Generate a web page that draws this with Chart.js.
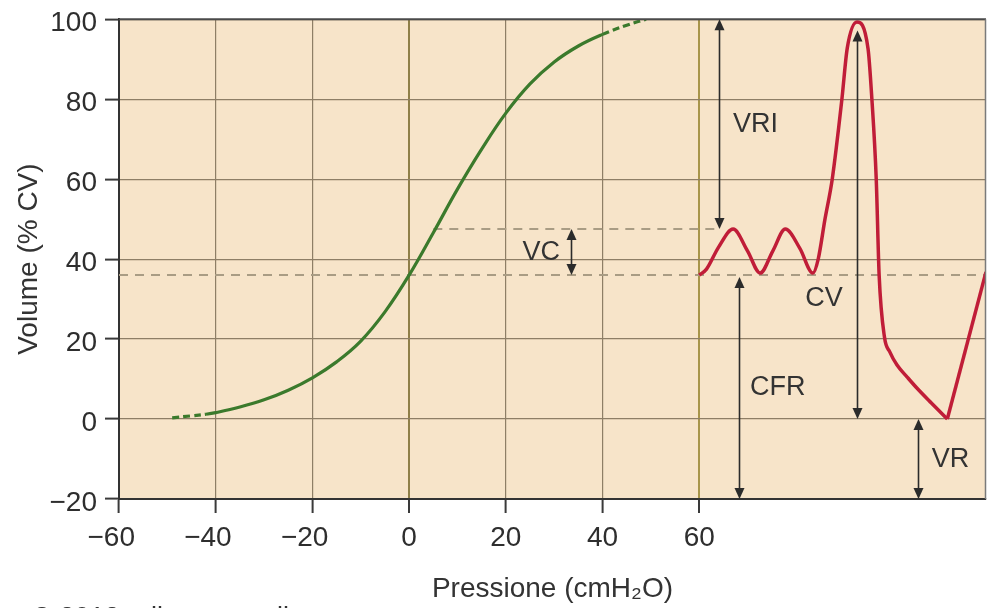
<!DOCTYPE html>
<html><head><meta charset="utf-8">
<style>html,body{margin:0;padding:0;background:#fff;overflow:hidden}#wrap{width:987px;height:608px;position:relative}</style>
<script src="https://cdn.jsdelivr.net/npm/chart.js@4"></script>
</head><body><div id="wrap"><canvas id="c" width="987" height="608"></canvas></div>
<script>
// ---- data ----
const xTicks = [-60, -40, -20, 0, 20, 40, 60];
const yTicks = [-20, 0, 20, 40, 60, 80, 100];
const xMin = -60, xMax = 119.3, yMin = -20, yMax = 100;

// pressure-volume (compliance) curve
const greenX = [-49, -45, -42, -40, -35, -30, -25, -20, -15, -10, -5, 0, 5, 10, 15, 20, 25, 30, 35, 40, 45, 49];
const greenY = [0.3, 0.8, 1.2, 1.6, 3.0, 4.8, 7.2, 10.3, 14.3, 19.5, 26.8, 36, 46.6, 57.5, 67.5, 76.5, 83.8, 89.3, 93.3, 96.2, 98.5, 100];

// spirogram trace
const redX = [60, 61.5, 64, 67, 70, 72.6, 75.2, 77.8, 80.8, 83.5, 84.6, 86, 87.5, 89.5, 90.6, 92.6, 94.9, 95.7, 96.6, 97.2, 98.3, 99.4, 100.9, 103, 105, 108, 111.3];
const redY = [36, 37.5, 43, 47.5, 42, 36.5, 42, 47.5, 42.7, 36.5, 40, 50, 60, 80, 92.7, 99.3, 92.7, 80, 60, 36, 20.5, 16.8, 13.5, 10.5, 7.75, 4, 0];
const redTailX = [111.3, 119.3];
const redTailY = [0, 36.8];

// reference levels
const frcLevel = 36;
const tidalLevel = 47.5;
const frcLineX = [-60, 119.3];
const tidalLineX = [5, 64.1];

// volume arrows and labels
const arrowX = [64.1, 33.5, 68.2, 92.6, 105.3];
const arrowTop = [100, 47.5, 35.5, 97.2, 0];
const arrowBottom = [47.5, 36, -20, 0, -20];
const labelText = ['VRI', 'VC', 'CFR', 'CV', 'VR'];
const labelX = [67.0, 31.2, 70.5, 89.7, 108.1];
const labelY = [73.75, 41.6, 7.75, 30.1, -10.25];
const labelAlign = ['left', 'right', 'left', 'right', 'left'];

const xTitle = 'Pressione (cmH\u2082O)';
const yTitle = 'Volume (% CV)';
const credit = '\u00A9 2012 edi-ermes milano';

// ---- build ----
const pts = (xs, ys) => xs.map((x, i) => ({x, y: ys[i]}));
const FONT = '"Liberation Sans", Arial, Helvetica, sans-serif';
const minus = v => v < 0 ? '\u2212' + Math.abs(v) : String(v);
// x labels: digits centred on the tick, minus sign hanging to the left
const minusX = v => v < 0 ? '\u2212' + Math.abs(v) + '\u2007' : String(v);

const bgPlugin = {
  id: 'bg',
  beforeDraw(chart) {
    const {ctx, chartArea: a} = chart;
    ctx.save();
    ctx.fillStyle = '#ffffff';
    ctx.fillRect(0, 0, chart.width, chart.height);
    ctx.fillStyle = '#f7e4c9';
    ctx.fillRect(a.left, a.top, a.right - a.left, a.bottom - a.top);
    ctx.restore();
  }
};

const annoPlugin = {
  id: 'anno',
  afterDatasetsDraw(chart) {
    const {ctx, chartArea: a, scales: {x, y}} = chart;
    ctx.save();
    // frame
    ctx.strokeStyle = '#4a4a4a';
    ctx.lineWidth = 2;
    ctx.beginPath(); ctx.moveTo(a.left, a.top); ctx.lineTo(a.right, a.top); ctx.stroke();
    ctx.strokeStyle = '#7a7a7a';
    ctx.lineWidth = 1.5;
    ctx.beginPath(); ctx.moveTo(a.right - 0.5, a.top); ctx.lineTo(a.right - 0.5, a.bottom); ctx.stroke();
    // arrows
    ctx.strokeStyle = '#2b2b2b';
    ctx.fillStyle = '#2b2b2b';
    ctx.lineWidth = 1.6;
    for (let i = 0; i < arrowX.length; i++) {
      const px = Math.round(x.getPixelForValue(arrowX[i])) + 0.5;
      const p1 = y.getPixelForValue(arrowTop[i]);
      const p2 = y.getPixelForValue(arrowBottom[i]);
      const hl = 11, hw = 5;
      ctx.beginPath(); ctx.moveTo(px, p1 + hl - 2); ctx.lineTo(px, p2 - hl + 2); ctx.stroke();
      ctx.beginPath(); ctx.moveTo(px, p1); ctx.lineTo(px - hw, p1 + hl); ctx.lineTo(px + hw, p1 + hl); ctx.closePath(); ctx.fill();
      ctx.beginPath(); ctx.moveTo(px, p2); ctx.lineTo(px - hw, p2 - hl); ctx.lineTo(px + hw, p2 - hl); ctx.closePath(); ctx.fill();
    }
    // labels
    ctx.font = '27px ' + FONT;
    ctx.fillStyle = '#333333';
    ctx.textBaseline = 'middle';
    for (let i = 0; i < labelText.length; i++) {
      ctx.textAlign = labelAlign[i];
      ctx.fillText(labelText[i], x.getPixelForValue(labelX[i]), y.getPixelForValue(labelY[i]));
    }
    ctx.restore();
  },
  afterDraw(chart) {
    const {ctx} = chart;
    ctx.save();
    ctx.font = '27px ' + FONT;
    ctx.fillStyle = '#333333';
    ctx.textAlign = 'left';
    ctx.textBaseline = 'alphabetic';
    ctx.fillText(credit, 32, 626);
    ctx.restore();
  }
};

const greenDash = ctx => (ctx.p0.parsed.x < -42 || ctx.p0.parsed.x >= 40) ? [7, 4] : undefined;

new Chart(document.getElementById('c'), {
  type: 'scatter',
  data: {
    datasets: [
      {data: pts(greenX, greenY), showLine: true, borderColor: '#3b7a2c', borderWidth: 3.2,
       pointRadius: 0, tension: 0.4, segment: {borderDash: greenDash}, order: 0},
      {data: pts(redX, redY), showLine: true, borderColor: '#c01d38', borderWidth: 3.5,
       pointRadius: 0, cubicInterpolationMode: 'monotone', order: 0},
      {data: pts(redTailX, redTailY), showLine: true, borderColor: '#c01d38', borderWidth: 3.5,
       pointRadius: 0, tension: 0, order: 0},
      {data: pts(frcLineX, frcLineX.map(() => frcLevel)), showLine: true, borderColor: '#a99c84', borderWidth: 2,
       borderDash: [9, 7], pointRadius: 0, order: 2},
      {data: pts(tidalLineX, tidalLineX.map(() => tidalLevel)), showLine: true, borderColor: '#a99c84', borderWidth: 2,
       borderDash: [9, 7], pointRadius: 0, order: 2}
    ]
  },
  options: {
    responsive: false,
    animation: false,
    devicePixelRatio: 1,
    layout: {padding: {top: 14, right: 1, left: 0, bottom: 0}},
    plugins: {legend: {display: false}, tooltip: {enabled: false}},
    scales: {
      x: {
        type: 'linear', min: xMin, max: xMax,
        afterBuildTicks: s => { s.ticks = xTicks.map(v => ({value: v})); },
        afterFit: s => { s.height = 109; },
        border: {color: '#333333', width: 2},
        grid: {
          color: c => c.tick && c.tick.value === 60 ? '#a8954a' : (c.tick && c.tick.value === 0 ? '#8f7f48' : '#8e7e66'),
          lineWidth: c => c.tick && (c.tick.value === 60 || c.tick.value === 0) ? 2 : 1.2,
          tickColor: '#3a3a3a', tickWidth: 2, tickLength: 14
        },
        ticks: {font: {size: 28, family: FONT}, color: '#2e2e2e', padding: 8, maxRotation: 0,
                callback: v => minusX(v)},
        title: {display: true, text: xTitle, font: {size: 28, family: FONT}, color: '#333333',
                padding: {top: 0, bottom: 2}}
      },
      y: {
        type: 'linear', min: yMin, max: yMax,
        afterBuildTicks: s => { s.ticks = yTicks.map(v => ({value: v})); },
        afterFit: s => { s.width = 119; },
        border: {color: '#333333', width: 2},
        grid: {color: '#8e7e66', lineWidth: 1.2, tickColor: '#3a3a3a', tickWidth: 2, tickLength: 14},
        ticks: {font: {size: 28, family: FONT, lineHeight: 0.8}, color: '#2e2e2e', padding: 8,
                labelOffset: 4, callback: v => minus(v)},
        title: {display: true, text: yTitle, font: {size: 28, family: FONT}, color: '#333333',
                padding: {top: 12, bottom: 0}}
      }
    }
  },
  plugins: [bgPlugin, annoPlugin]
});
</script></body></html>
